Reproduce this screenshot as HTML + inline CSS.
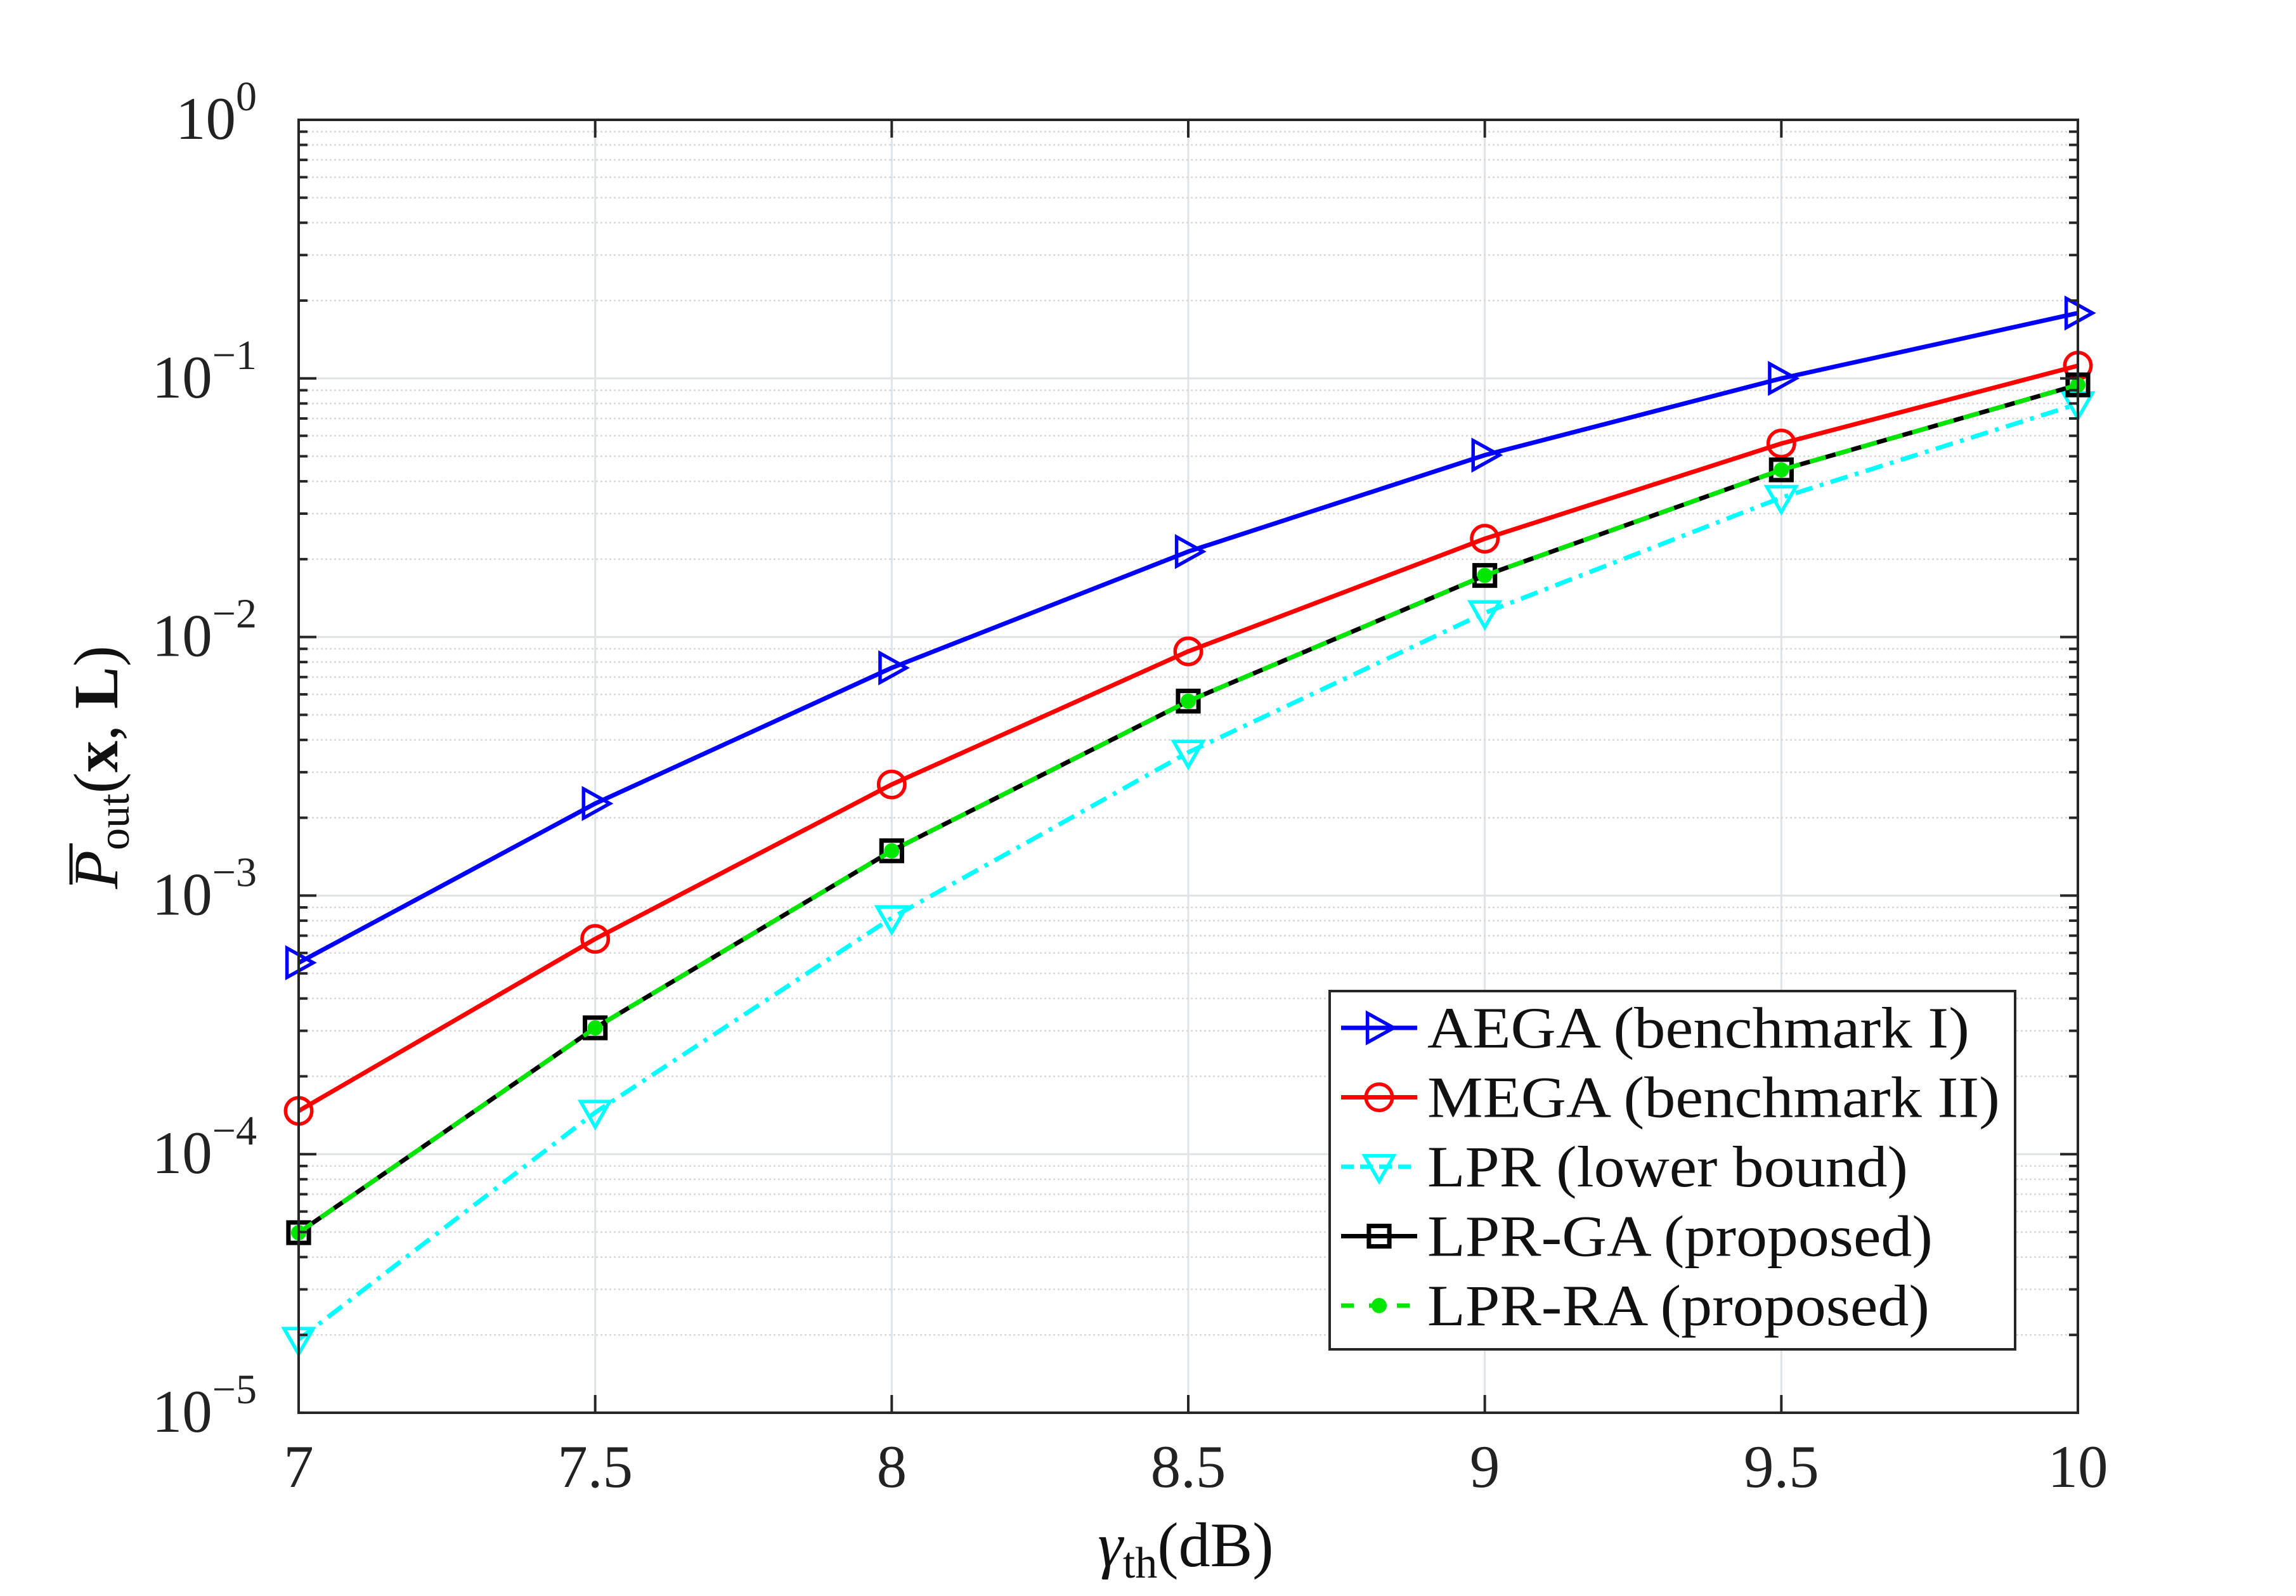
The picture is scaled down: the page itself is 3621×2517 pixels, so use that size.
<!DOCTYPE html>
<html><head><meta charset="utf-8">
<style>
html,body{margin:0;padding:0;background:#fff;}
svg{display:block;font-family:"Liberation Serif",serif;}
</style></head>
<body>
<svg id="chart" width="3621" height="2517" viewBox="0 0 3621 2517" xmlns="http://www.w3.org/2000/svg">
<rect x="0" y="0" width="3621" height="2517" fill="#fff"/>
<g id="grid"></g>
<g id="series"></g>
<rect x="471" y="189" width="2806" height="2039" fill="none" stroke="#262626" stroke-width="4"/>
<g id="ticks"></g>
<text transform="translate(185,1210) rotate(-90)" text-anchor="middle" font-size="100" fill="#111"><tspan font-style="italic">P</tspan><tspan font-size="70" dy="18">out</tspan><tspan dy="-18">(</tspan><tspan font-weight="bold">x</tspan><tspan>, </tspan><tspan font-weight="bold">L</tspan><tspan>)</tspan></text>
<line x1="112" y1="1330" x2="112" y2="1395" stroke="#111" stroke-width="5"/>
<text x="1870" y="2470" text-anchor="middle" font-size="100" fill="#111"><tspan font-style="italic">γ</tspan><tspan font-size="70" dy="18">th</tspan><tspan dy="-18">(dB)</tspan></text>
<g id="legend">
<rect x="2097" y="1563" width="1081" height="565" fill="#fff" stroke="#262626" stroke-width="4"/>
</g>
</svg>
<script>
const xValues = [7, 7.5, 8, 8.5, 9, 9.5, 10];
const aegaValues = [5.5e-4, 2.27e-3, 7.6e-3, 2.14e-2, 5.05e-2, 0.100, 0.179];
const megaValues = [1.47e-4, 6.8e-4, 2.69e-3, 8.8e-3, 2.4e-2, 5.6e-2, 0.112];
const lprValues = [1.92e-5, 1.45e-4, 8.2e-4, 3.58e-3, 1.24e-2, 3.46e-2, 7.97e-2];
const lprGaValues = [4.97e-5, 3.08e-4, 1.49e-3, 5.65e-3, 1.73e-2, 4.43e-2, 9.44e-2];
const lprRaValues = [4.97e-5, 3.08e-4, 1.49e-3, 5.65e-3, 1.73e-2, 4.43e-2, 9.44e-2];
const xTickLabels = ["7", "7.5", "8", "8.5", "9", "9.5", "10"];
const yTickExps = [0, -1, -2, -3, -4, -5];
const legendLabels = ["AEGA (benchmark I)", "MEGA (benchmark II)", "LPR (lower bound)", "LPR-GA (proposed)", "LPR-RA (proposed)"];
const legendWidths = [855, 903, 758, 797, 792];

const NS = "http://www.w3.org/2000/svg";
const L = 471, R = 3277, T = 189, B = 2228;
const xMin = 7, xMax = 10, yMinE = -5, yMaxE = 0;
function xs(v){ return L + (v - xMin) / (xMax - xMin) * (R - L); }
function ys(v){ return T + (yMaxE - Math.log10(v)) / (yMaxE - yMinE) * (B - T); }
function mk(tag, attrs, parent){
  const e = document.createElementNS(NS, tag);
  for (const k in attrs) e.setAttribute(k, attrs[k]);
  parent.appendChild(e);
  return e;
}
const grid = document.getElementById('grid');
const ticks = document.getElementById('ticks');
const series = document.getElementById('series');
const legend = document.getElementById('legend');

xValues.forEach((v, i) => {
  const x = xs(v);
  const g = mk('line', {x1:x, y1:T, x2:x, y2:B, stroke:'#dfe3e6', 'stroke-width':3}, grid);
  
  
  const t1 = mk('line', {x1:x, y1:B, x2:x, y2:B-28, stroke:'#262626', 'stroke-width':4}, ticks);
  
  
  const t2 = mk('line', {x1:x, y1:T, x2:x, y2:T+28, stroke:'#262626', 'stroke-width':4}, ticks);
  
  
  const lb = mk('text', {x:x, y:2345, 'text-anchor':'middle', 'font-size':95, fill:'#222'}, ticks);
  lb.textContent = xTickLabels[i];
  
  
});
for (let e = yMinE; e <= yMaxE; e++) {
  const y = ys(Math.pow(10, e));
  if (e > yMinE && e < yMaxE) {
    const g = mk('line', {x1:L, y1:y, x2:R, y2:y, stroke:'#dfe3e6', 'stroke-width':3}, grid);
    
    
  }
  [[L, L+28], [R, R-28]].forEach(p => {
    const t = mk('line', {x1:p[0], y1:y, x2:p[1], y2:y, stroke:'#262626', 'stroke-width':4}, ticks);
    
    
  });
  if (e < yMaxE) {
    for (let m = 2; m <= 9; m++) {
      const ym = ys(m * Math.pow(10, e));
      const g = mk('line', {x1:L, y1:ym, x2:R, y2:ym, stroke:'#d8d8d8', 'stroke-width':2.5, 'stroke-dasharray':'3 4'}, grid);
      
      
      [[L, L+14], [R, R-14]].forEach(p => {
        const t = mk('line', {x1:p[0], y1:ym, x2:p[1], y2:ym, stroke:'#262626', 'stroke-width':4}, ticks);
        
        
      });
    }
  }
}
yTickExps.forEach(e => {
  const y = ys(Math.pow(10, e));
  const lb = mk('text', {x:405, y:y + 30, 'text-anchor':'end', 'font-size':95, fill:'#222'}, ticks);
  
  
  const a = document.createElementNS(NS, 'tspan'); a.textContent = '10'; lb.appendChild(a);
  const b = document.createElementNS(NS, 'tspan');
  b.setAttribute('font-size', '66'); b.setAttribute('dy', '-45');
  b.textContent = e === 0 ? '0' : '\u2212' + (-e);
  lb.appendChild(b);
});

function marker(type, x, y, color, parent){
  let m;
  const s = 23;
  if (type === 'tri-right') m = mk('polygon', {points:`${x-s*0.8},${y-s} ${x+s},${y} ${x-s*0.8},${y+s}`, fill:'none', stroke:color, 'stroke-width':5.5}, parent);
  else if (type === 'circle') m = mk('circle', {cx:x, cy:y, r:s*0.9, fill:'none', stroke:color, 'stroke-width':5.5}, parent);
  else if (type === 'tri-down') m = mk('polygon', {points:`${x-s},${y-s*0.75} ${x+s},${y-s*0.75} ${x},${y+s}`, fill:'none', stroke:color, 'stroke-width':5.5}, parent);
  else if (type === 'square') m = mk('rect', {x:x-s*0.7, y:y-s*0.7, width:s*1.4, height:s*1.4, fill:'none', stroke:color, 'stroke-width':7}, parent);
  else m = mk('circle', {cx:x, cy:y, r:11, fill:color, stroke:color, 'stroke-width':2}, parent);
  return m;
}
const defs = [
  {vals:aegaValues, color:'#0000ff', dash:'', m:'tri-right', name:'aega'},
  {vals:megaValues, color:'#ff0000', dash:'', m:'circle', name:'mega'},
  {vals:lprValues, color:'#00ffff', dash:'28 12 6 12', m:'tri-down', name:'lpr'},
  {vals:lprGaValues, color:'#000000', dash:'', m:'square', name:'lpr-ga'},
  {vals:lprRaValues, color:'#00e600', dash:'26 16', m:'dot', name:'lpr-ra'}
];
defs.forEach((d, si) => {
  const g = mk('g', {}, series);
  
  
  const pts = d.vals.map((v, i) => xs(xValues[i]) + ',' + ys(v)).join(' ');
  const attrs = {points:pts, fill:'none', stroke:d.color, 'stroke-width':7, 'stroke-linejoin':'round'};
  if (d.dash) attrs['stroke-dasharray'] = d.dash;
  const pl = mk('polyline', attrs, g);
  
  
  d.vals.forEach((v, i) => {
    const m = marker(d.m, xs(xValues[i]), ys(v), d.color, g);
    
    
  });
  const ly = 1621 + si * 109.5;
  const lg = mk('g', {}, legend);
  
  
  const la = {x1:2115, y1:ly, x2:2235, y2:ly, stroke:d.color, 'stroke-width':7};
  if (d.dash) la['stroke-dasharray'] = si === 2 ? '20 10' : '20 24';
  const ll = mk('line', la, lg);
  
  
  const lm = marker(d.m, 2175, ly, d.color, lg);
  
  
  const lt = mk('text', {x:2251, y:ly + 31, 'font-size':92, fill:'#111', textLength:legendWidths[si], lengthAdjust:'spacingAndGlyphs'}, lg);
  lt.textContent = legendLabels[si];
  
  
});
</script>
</body></html>
